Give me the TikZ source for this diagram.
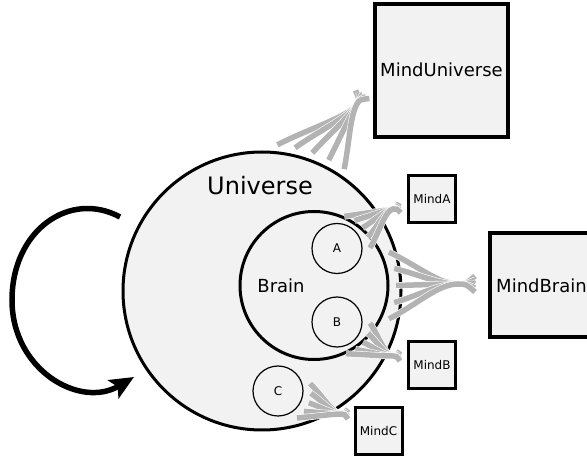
\documentclass[tikz,border=0pt]{standalone}
\usepackage{fontspec}
\setmainfont{DejaVu Sans}
\usetikzlibrary{arrows.meta, calc}

\definecolor{paper}{HTML}{F2F2F2}
\definecolor{hair}{HTML}{B3B3B3}

\begin{document}
\begin{tikzpicture}[x=1pt, y=1pt,
    world/.style={circle, draw, fill=paper, inner sep=0pt, outer sep=8pt},
    mindbox/.style={rectangle, draw, fill=paper, inner sep=0pt},
    mindlink/.style={draw=white, line width=0.6pt, double=hair, double distance=5.5pt}]
    \useasboundingbox (0,0) rectangle (587,461);

    % 循环箭头
    \draw[line width=5.5pt, -{Stealth[length=24pt, width=21pt, inset=5pt]}]
        (120,244) .. controls (70,271) and (12,231) .. (12,161)
        .. controls (12,91) and (80,52) .. (134,84);

    % 圆：Universe, Brain, A, B, C
    \node[world, line width=3pt, minimum size=278pt] (universe) at (262,170) {};
    \node[font=\fontsize{24}{28}\selectfont] (universeLabel) at (260,275) {Universe};
    \node[world, line width=3pt, minimum size=148pt] (brain) at (314,175.5) {};
    \node[font=\fontsize{18}{22}\selectfont] (brainLabel) at (281,175) {Brain};
    \node[world, line width=1.2pt, minimum size=50pt, font=\fontsize{12}{14}\selectfont] (a) at (337,212.5) {A};
    \node[world, line width=1.2pt, minimum size=50pt, font=\fontsize{12}{14}\selectfont] (b) at (337,139) {B};
    \node[world, line width=1.2pt, minimum size=50pt, font=\fontsize{12}{14}\selectfont] (c) at (278,70) {C};

    % 汇聚点
    \coordinate (knotU) at (357,357);
    \coordinate (knotA) at (393,252);
    \coordinate (knotBrain) at (458,177);
    \coordinate (knotB) at (393,105);
    \coordinate (knotC) at (341,47);

    % 灰色连线
    \foreach \a/\s in {84/8, 77/4, 70/0, 63/-4, 56/-8}
        \draw[mindlink] (universe.\a) .. controls ($(universe.\a)!0.4!(knotU)$) and ($(knotU)+(240:14)$) .. (knotU)
            .. controls ($(knotU)+(60:5)$) .. ($(knotU)+(60:11)+(150:\s)$);
    \foreach \a/\s in {77/5, 58/2.5, 39/0, 20/-2.5, 1/-5}
        \draw[mindlink] (a.\a) .. controls ($(a.\a)!0.4!(knotA)$) and ($(knotA)+(190:8)$) .. (knotA)
            .. controls ($(knotA)+(10:3.5)$) .. ($(knotA)+(10:7)+(100:\s)$);
    \foreach \a/\s in {24/8, 12/4, 0/0, 348/-4, 336/-8}
        \draw[mindlink] (brain.\a) .. controls ($(brain.\a)!0.4!(knotBrain)$) and ($(knotBrain)+(180:20)$) .. (knotBrain)
            .. controls ($(knotBrain)+(0:8)$) .. ($(knotBrain)+(0:17)+(90:\s)$);
    \foreach \a/\s in {358/5, 340/2.5, 322/0, 304/-2.5, 286/-5}
        \draw[mindlink] (b.\a) .. controls ($(b.\a)!0.4!(knotB)$) and ($(knotB)+(180:8)$) .. (knotB)
            .. controls ($(knotB)+(0:3.5)$) .. ($(knotB)+(0:7)+(90:\s)$);
    \foreach \a/\s in {13/5, 356/2.5, 339/0, 322/-2.5, 305/-5}
        \draw[mindlink] (c.\a) .. controls ($(c.\a)!0.4!(knotC)$) and ($(knotC)+(180:8)$) .. (knotC)
            .. controls ($(knotC)+(0:3.5)$) .. ($(knotC)+(0:7)+(90:\s)$);

    % Mind 方框
    \node[mindbox, line width=4pt, minimum size=133pt, font=\fontsize{18}{22}\selectfont] (mindU) at (441.5,390.75) {MindUniverse};
    \node[mindbox, line width=4pt, minimum size=104pt, font=\fontsize{18}{22}\selectfont] (mindBrain) at (541.5,175.5) {MindBrain};
    \node[mindbox, line width=3pt, minimum size=47pt, font=\fontsize{12}{14}\selectfont] (mindA) at (432,262) {MindA};
    \node[mindbox, line width=3pt, minimum size=47pt, font=\fontsize{12}{14}\selectfont] (mindB) at (432,95.5) {MindB};
    \node[mindbox, line width=3pt, minimum size=47pt, font=\fontsize{12}{14}\selectfont] (mindC) at (378.5,29.5) {MindC};
\end{tikzpicture}
\end{document}
